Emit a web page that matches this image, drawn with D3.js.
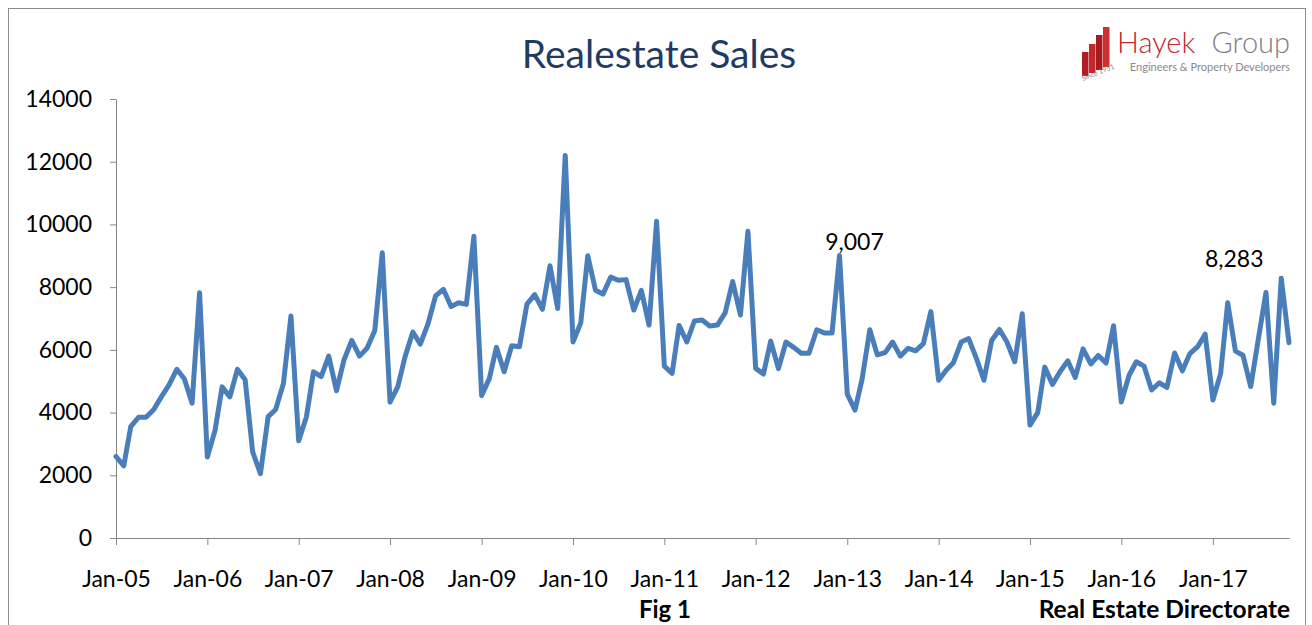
<!DOCTYPE html>
<html>
<head>
<meta charset="utf-8">
<script src="https://cdn.jsdelivr.net/npm/d3@7"></script>
<style>
  body { margin: 0; background: #fff; }
  svg { display: block; font-family: Lato, "Open Sans", sans-serif; }
</style>
</head>
<body>
<div id="chart"></div>
<script>
// monthly sales, Jan-05 .. Nov-17
const firstMonth = "Jan-05";
const sales = [
  2600, 2300, 3550, 3850, 3850, 4100, 4500, 4880, 5380, 5080, 4300, 7820,
  2580, 3440, 4820, 4500, 5380, 5050, 2750, 2050, 3870, 4100, 4930, 7080,
  3100, 3870, 5300, 5150, 5800, 4700, 5680, 6300, 5800, 6050, 6620, 9100,
  4330, 4830, 5780, 6570, 6180, 6840, 7720, 7930, 7380, 7500, 7450, 9620,
  4540, 5090, 6080, 5300, 6130, 6100, 7460, 7760, 7290, 8680, 7320, 12200,
  6250, 6860, 9000, 7900, 7780, 8320, 8220, 8240, 7270, 7900, 6790, 10100,
  5480, 5250, 6780, 6250, 6920, 6950, 6760, 6790, 7180, 8180, 7110, 9780,
  5410, 5230, 6280, 5400, 6250, 6080, 5890, 5890, 6640, 6540, 6540, 9007,
  4590, 4080, 5060, 6640, 5840, 5910, 6250, 5800, 6050, 5970, 6200, 7220,
  5030, 5360, 5590, 6250, 6360, 5730, 5030, 6300, 6650, 6250, 5620, 7150,
  3600, 4000, 5450, 4900, 5300, 5650, 5120, 6030, 5550, 5820, 5580, 6770,
  4340, 5190, 5620, 5480, 4720, 4950, 4800, 5900, 5330, 5880, 6100, 6500,
  4400, 5250, 7500, 5960, 5830, 4830, 6320, 7830, 4300, 8283, 6230
];
const xTickLabels = ["Jan-05", "Jan-06", "Jan-07", "Jan-08", "Jan-09", "Jan-10", "Jan-11",
                     "Jan-12", "Jan-13", "Jan-14", "Jan-15", "Jan-16", "Jan-17"];
const yTicks = [0, 2000, 4000, 6000, 8000, 10000, 12000, 14000];
const callouts = [
  { month: "Dec-12", text: "9,007", dx: 15, dy: -6 },
  { month: "Oct-17", text: "8,283", dx: -47, dy: -11 }
];

const width = 1312, height = 625;
const parseMonth = d3.timeParse("%b-%y");
const start = parseMonth(firstMonth);
const data = sales.map((v, i) => ({ date: d3.timeMonth.offset(start, i), value: v }));

const svg = d3.select("#chart").append("svg")
  .attr("width", width)
  .attr("height", height);

// outer frame
svg.append("rect")
  .attr("x", 8.5).attr("y", 8.5)
  .attr("width", 1297).attr("height", 660)
  .attr("fill", "none")
  .attr("stroke", "#8c8c8c");

const x = d3.scaleTime()
  .domain(d3.extent(data, d => d.date))
  .range([116, 1289]);

const y = d3.scaleLinear()
  .domain([0, 14000])
  .range([538, 99]);

const axisColor = "#868686";

const yAxis = svg.append("g")
  .attr("transform", "translate(116,0)")
  .call(d3.axisLeft(y).tickValues(yTicks).tickSize(6).tickSizeOuter(0).tickPadding(18)
    .tickFormat(d3.format("d")));

const xAxis = svg.append("g")
  .attr("transform", "translate(0,538)")
  .call(d3.axisBottom(x).tickValues(xTickLabels.map(parseMonth)).tickSize(7).tickSizeOuter(0)
    .tickPadding(26).tickFormat(d3.timeFormat("%b-%y")));

[xAxis, yAxis].forEach(g => {
  g.attr("font-family", null).attr("font-size", null);
  g.selectAll("path, line").attr("stroke", axisColor);
  g.selectAll("text").style("font-size", "23px").attr("fill", "#000");
});

const line = d3.line()
  .x(d => x(d.date))
  .y(d => y(d.value));

svg.append("path")
  .datum(data)
  .attr("d", line)
  .attr("fill", "none")
  .attr("stroke", "#4a7ebb")
  .attr("stroke-width", 5)
  .attr("stroke-linejoin", "round")
  .attr("stroke-linecap", "round");

svg.selectAll(".callout")
  .data(callouts)
  .join("text")
  .attr("class", "callout")
  .attr("x", d => x(parseMonth(d.month)) + d.dx)
  .attr("y", d => y(data.find(p => +p.date === +parseMonth(d.month)).value) + d.dy)
  .attr("text-anchor", "middle")
  .style("font-size", "23px")
  .text(d => d.text);

// title
svg.append("text")
  .attr("x", 659).attr("y", 68)
  .attr("text-anchor", "middle")
  .style("font-size", "39px")
  .attr("fill", "#1f3b63")
  .text("Realestate Sales");

// footer
svg.append("text")
  .attr("x", 665).attr("y", 618)
  .attr("text-anchor", "middle")
  .style("font-size", "24px").style("font-weight", "bold")
  .text("Fig 1");

svg.append("text")
  .attr("x", 1290).attr("y", 618)
  .attr("text-anchor", "end")
  .style("font-size", "24.5px").style("font-weight", "bold")
  .text("Real Estate Directorate");

// logo
const logo = svg.append("g");
const bars = [[1082, 52, 76], [1089, 44, 73], [1096, 35, 70], [1103, 27, 67]];
logo.selectAll("rect")
  .data(bars)
  .join("rect")
  .attr("x", d => d[0]).attr("y", d => d[1])
  .attr("width", 6.5).attr("height", d => d[2] - d[1])
  .attr("fill", (d, i) => ["#b01e23", "#c4262b", "#a51b20", "#cf2e33"][i]);
logo.append("text")
  .attr("transform", "translate(1083,81) rotate(-22)")
  .style("font-size", "7px").attr("fill", "#8a8a8a")
  .text("Since 1951");
logo.append("text")
  .attr("x", 1117).attr("y", 53)
  .style("font-size", "29px").style("font-weight", 300)
  .attr("fill", "#c1272d")
  .text("Hayek");
logo.append("text")
  .attr("x", 1290).attr("y", 53)
  .attr("text-anchor", "end")
  .style("font-size", "29px").style("font-weight", 300)
  .attr("fill", "#808080")
  .text("Group");
logo.append("text")
  .attr("x", 1290).attr("y", 71)
  .attr("text-anchor", "end")
  .style("font-size", "11px")
  .attr("fill", "#8a8a8a")
  .text("Engineers & Property Developers");
</script>
</body>
</html>
